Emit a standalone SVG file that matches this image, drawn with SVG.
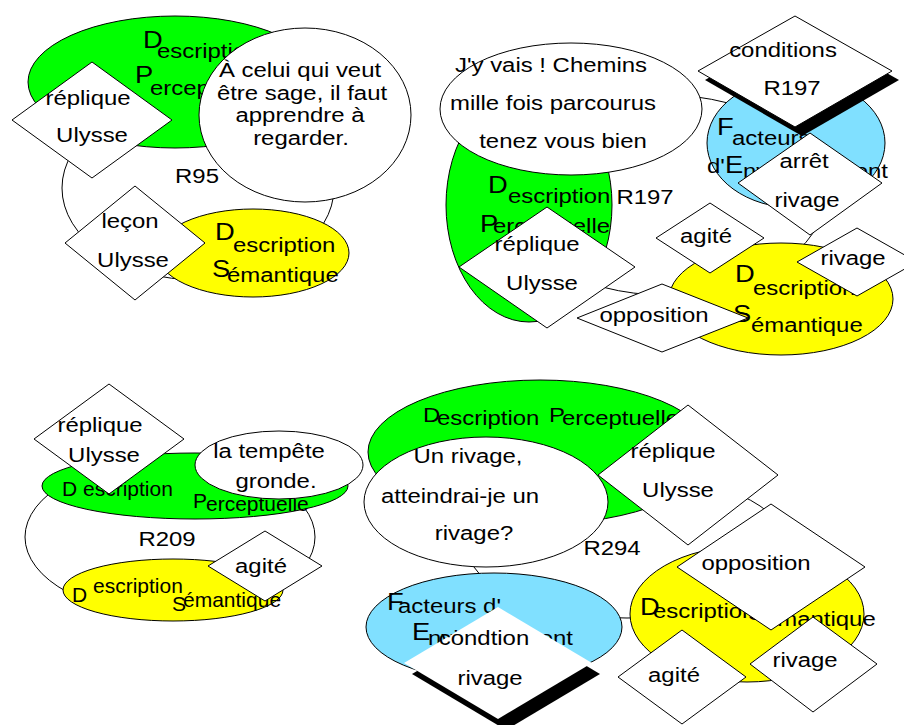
<svg xmlns="http://www.w3.org/2000/svg" width="904" height="725" viewBox="0 0 904 725">
<style>
.t{font-family:"Liberation Sans",Arial,sans-serif;font-size:21px;fill:#000}
.b{font-size:24px}
.m{text-anchor:middle}
.s{stroke:#000;stroke-width:1}
.w{fill:#fff}
.g{fill:#00ff00}
.y{fill:#ffff00}
.c{fill:#80e0ff}
.k{fill:#000}
</style>
<rect width="904" height="725" fill="#fff"/>
<g id="connectors"/>

<!-- Panel 1 -->
<g id="p1-r95">
<ellipse class="w s" cx="198" cy="188" rx="136" ry="92"/>
<text class="t m" transform="translate(197 183) scale(1.14 1)">R95</text>
</g>
<g id="p1-description-perceptuelle">
<ellipse class="g s" cx="175" cy="82" rx="147" ry="66"/>
<text class="t b" transform="translate(143 48) scale(1.14 1)">D</text>
<text class="t" transform="translate(157 58) scale(1.14 1)">escription</text>
<text class="t b" transform="translate(135 83) scale(1.14 1)">P</text>
<text class="t" transform="translate(150 95) scale(1.14 1)">erceptuelle</text>
</g>
<g id="p1-description-semantique">
<ellipse class="y s" cx="253" cy="253" rx="96" ry="44"/>
<text class="t b" transform="translate(215 240) scale(1.14 1)">D</text>
<text class="t" transform="translate(233 252) scale(1.14 1)">escription</text>
<text class="t b" transform="translate(212 277) scale(1.14 1)">S</text>
<text class="t" transform="translate(227 282) scale(1.14 1)">émantique</text>
</g>
<g id="p1-bulle">
<ellipse class="w s" cx="305" cy="115" rx="106" ry="87"/>
<text class="t m" transform="translate(300 77) scale(1.14 1)">À celui qui veut</text>
<text class="t m" transform="translate(302 100) scale(1.14 1)">être sage, il faut</text>
<text class="t m" transform="translate(300 122) scale(1.14 1)">apprendre à</text>
<text class="t m" transform="translate(301 145) scale(1.14 1)">regarder.</text>
</g>
<g id="p1-replique-ulysse">
<polygon class="w s" points="92,62 172,120 92,178 12,120"/>
<text class="t m" transform="translate(88 105) scale(1.14 1)">réplique</text>
<text class="t m" transform="translate(92 142) scale(1.14 1)">Ulysse</text>
</g>
<g id="p1-lecon-ulysse">
<polygon class="w s" points="135,186 205,243 135,300 65,243"/>
<text class="t m" transform="translate(130 228) scale(1.14 1)">leçon</text>
<text class="t m" transform="translate(133 267) scale(1.14 1)">Ulysse</text>
</g>

<!-- Panel 2 -->
<g id="p2-r197">
<ellipse class="w s" cx="665" cy="195" rx="160" ry="100"/>
<text class="t m" transform="translate(645 204) scale(1.14 1)">R197</text>
</g>
<g id="p2-description-perceptuelle">
<ellipse class="g s" cx="529" cy="205" rx="83" ry="117"/>
<text class="t b" transform="translate(488 193) scale(1.14 1)">D</text>
<text class="t" transform="translate(508 203) scale(1.14 1)">escription</text>
<text class="t b" transform="translate(480 232) scale(1.14 1)">P</text>
<text class="t" transform="translate(493 233) scale(1.14 1)">erceptuelle</text>
</g>
<g id="p2-facteurs-environnement">
<ellipse class="c s" cx="796" cy="143" rx="89" ry="65"/>
<text class="t b" transform="translate(717 135) scale(1.14 1)">F</text>
<text class="t" transform="translate(732 145) scale(1.14 1)">acteurs</text>
<text class="t" transform="translate(707 173) scale(1.14 1)">d'</text>
<text class="t b" transform="translate(725 173) scale(1.14 1)">E</text>
<text class="t" transform="translate(743 178) scale(1.14 1)">nvironnement</text>
</g>
<g id="p2-bulle">
<ellipse class="w s" cx="571" cy="109" rx="131" ry="66"/>
<text class="t m" transform="translate(551 72) scale(1.14 1)">J'y vais ! Chemins</text>
<text class="t m" transform="translate(553 110) scale(1.14 1)">mille fois parcourus</text>
<text class="t m" transform="translate(563 148) scale(1.14 1)">tenez vous bien</text>
</g>
<g id="p2-conditions-r197">
<polygon class="k" points="802,25 899,80 802,136 705,80"/>
<polygon class="w s" points="795,16 892,71 795,127 698,71"/>
<text class="t m" transform="translate(783 57) scale(1.14 1)">conditions</text>
<text class="t m" transform="translate(792 95) scale(1.14 1)">R197</text>
</g>
<g id="p2-arret-rivage">
<polygon class="w s" points="810,133 882,183 810,235 738,183"/>
<text class="t m" transform="translate(804 168) scale(1.14 1)">arrêt</text>
<text class="t m" transform="translate(807 207) scale(1.14 1)">rivage</text>
</g>
<g id="p2-description-semantique">
<ellipse class="y s" cx="781" cy="299" rx="112" ry="56"/>
<text class="t b" transform="translate(735 282) scale(1.14 1)">D</text>
<text class="t" transform="translate(753 295) scale(1.14 1)">escription</text>
<text class="t b" transform="translate(733 322) scale(1.14 1)">S</text>
<text class="t" transform="translate(751 332) scale(1.14 1)">émantique</text>
</g>
<g id="p2-agite">
<polygon class="w s" points="710,203 764,238 710,273 656,238"/>
<text class="t m" transform="translate(706 243) scale(1.14 1)">agité</text>
</g>
<g id="p2-rivage">
<polygon class="w s" points="857,228 917,262 857,296 797,262"/>
<text class="t m" transform="translate(853 265) scale(1.14 1)">rivage</text>
</g>
<g id="p2-opposition">
<polygon class="w s" points="577,318 662,284 748,318 662,352"/>
<text class="t m" transform="translate(654 322) scale(1.14 1)">opposition</text>
</g>
<g id="p2-replique-ulysse">
<polygon class="w s" points="547,207 635,267 547,328 459,267"/>
<text class="t m" transform="translate(537 251) scale(1.14 1)">réplique</text>
<text class="t m" transform="translate(542 290) scale(1.14 1)">Ulysse</text>
</g>

<!-- Panel 3 -->
<g id="p3-r209">
<ellipse class="w s" cx="170" cy="537" rx="145" ry="78"/>
<text class="t m" transform="translate(167 546) scale(1.14 1)">R209</text>
</g>
<g id="p3-description-perceptuelle">
<ellipse class="g s" cx="195" cy="486" rx="153" ry="33"/>
<text class="t" x="62" y="496" font-size="18">D escription</text>
<text class="t" x="193" y="508" font-size="22">P</text>
<text class="t" x="206" y="511" font-size="18">erceptuelle</text>
</g>
<g id="p3-bulle">
<ellipse class="w s" cx="279" cy="465" rx="84" ry="34"/>
<text class="t m" transform="translate(269 458) scale(1.14 1)">la tempête</text>
<text class="t m" transform="translate(276 488) scale(1.14 1)">gronde.</text>
</g>
<g id="p3-replique-ulysse">
<polygon class="w s" points="109,384 184,439 109,494 34,439"/>
<text class="t m" transform="translate(100 432) scale(1.14 1)">réplique</text>
<text class="t m" transform="translate(104 462) scale(1.14 1)">Ulysse</text>
</g>
<g id="p3-description-semantique">
<ellipse class="y s" cx="173" cy="590" rx="110" ry="31"/>
<text class="t" x="72" y="602" font-size="24">D</text>
<text class="t" x="93" y="593" font-size="17">escription</text>
<text class="t" x="172" y="611" font-size="25">S</text>
<text class="t" x="183" y="607" font-size="18">émantique</text>
</g>
<g id="p3-agite">
<polygon class="w s" points="265,531 322,566 265,601 208,566"/>
<text class="t m" transform="translate(261 573) scale(1.14 1)">agité</text>
</g>

<!-- Panel 4 -->
<g id="p4-r294">
<ellipse class="w s" cx="627" cy="546" rx="160" ry="72"/>
<text class="t m" transform="translate(612 555) scale(1.14 1)">R294</text>
</g>
<g id="p4-description-perceptuelle">
<ellipse class="g s" cx="540" cy="452" rx="172" ry="72"/>
<text class="t" font-size="23" transform="translate(423 422) scale(1.14 1)">D</text>
<text class="t" transform="translate(437 425) scale(1.14 1)">escription</text>
<text class="t" font-size="23" transform="translate(549 422) scale(1.14 1)">P</text>
<text class="t" transform="translate(562 425) scale(1.14 1)">erceptuelle</text>
</g>
<g id="p4-bulle">
<ellipse class="w s" cx="486" cy="502" rx="122" ry="65"/>
<text class="t m" transform="translate(468 463) scale(1.14 1)">Un rivage,</text>
<text class="t m" transform="translate(460 503) scale(1.14 1)">atteindrai-je un</text>
<text class="t m" transform="translate(474 540) scale(1.14 1)">rivage?</text>
</g>
<g id="p4-replique-ulysse">
<polygon class="w s" points="688,405 778,475 688,545 598,475"/>
<text class="t m" transform="translate(673 458) scale(1.14 1)">réplique</text>
<text class="t m" transform="translate(678 497) scale(1.14 1)">Ulysse</text>
</g>
<g id="p4-facteurs-environnement">
<ellipse class="c s" cx="494" cy="627" rx="128" ry="54"/>
<text class="t b" transform="translate(387 610) scale(1.14 1)">F</text>
<text class="t" transform="translate(398 613) scale(1.14 1)">acteurs d'</text>
<text class="t b" transform="translate(412 640) scale(1.14 1)">E</text>
<text class="t" transform="translate(428 645) scale(1.14 1)">nvironnement</text>
</g>
<g id="p4-condtion-rivage">
<polygon class="k" points="506,618 600,674 506,730 412,674"/>
<polygon class="w" points="498,607 592,663 498,719 404,663"/>
<text class="t m" transform="translate(484 645) scale(1.14 1)">condtion</text>
<text class="t m" transform="translate(490 685) scale(1.14 1)">rivage</text>
</g>
<g id="p4-description-semantique">
<ellipse class="y s" cx="747" cy="614" rx="117" ry="68"/>
<text class="t b" transform="translate(640 615) scale(1.14 1)">D</text>
<text class="t" transform="translate(653 618) scale(1.14 1)">escription</text>
<text class="t" transform="translate(748 620) scale(1.14 1)">S</text>
<text class="t" transform="translate(764 626) scale(1.14 1)">émantique</text>
</g>
<g id="p4-opposition">
<polygon class="w s" points="771,504 865,567 771,630 677,567"/>
<text class="t m" transform="translate(756 570) scale(1.14 1)">opposition</text>
</g>
<g id="p4-agite">
<polygon class="w s" points="682,630 746,677 682,724 618,677"/>
<text class="t m" transform="translate(674 682) scale(1.14 1)">agité</text>
</g>
<g id="p4-rivage">
<polygon class="w s" points="813,617 877,664 813,712 750,664"/>
<text class="t m" transform="translate(805 667) scale(1.14 1)">rivage</text>
</g>
</svg>
